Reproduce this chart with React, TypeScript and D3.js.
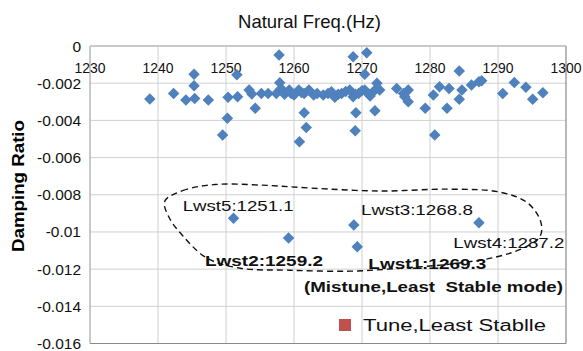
import React from "react";
import * as d3 from "d3";

const W = 583;
const H = 351;

// axis ticks
const xTicks = [1230, 1240, 1250, 1260, 1270, 1280, 1290, 1300];
const yTicks = [0, -0.002, -0.004, -0.006, -0.008, -0.01, -0.012, -0.014, -0.016];
const yTickLabels = ["0", "-0.002", "-0.004", "-0.006", "-0.008", "-0.01", "-0.012", "-0.014", "-0.016"];

// mode data (natural frequency, damping ratio)
const freq = [
  1238.8, 1242.3, 1244.1, 1245.3, 1245.3, 1245.4, 1247.4, 1249.5, 1250.2, 1250.3,
  1251.6, 1251.7, 1253.4, 1253.8, 1254.3, 1255.2, 1256.2, 1257.4, 1257.8, 1257.9,
  1258.1, 1258.6, 1259.3, 1259.6, 1260.0, 1260.7, 1261.1, 1261.5, 1261.5, 1261.8,
  1260.8, 1262.2, 1262.9, 1263.4, 1264.3, 1265.0, 1265.5, 1266.0, 1266.5, 1267.0,
  1267.6, 1268.2, 1268.7, 1268.7, 1269.0, 1269.1, 1269.0, 1269.5, 1270.0, 1270.4,
  1270.4, 1270.7, 1270.9, 1271.2, 1271.9, 1271.9, 1272.2, 1272.6, 1275.1, 1276.1,
  1276.3, 1276.8, 1276.8, 1279.3, 1280.5, 1280.7, 1281.4, 1282.5, 1282.8, 1284.3,
  1284.7, 1284.3, 1286.1, 1287.2, 1287.6, 1290.7, 1292.4, 1294.1, 1295.1, 1296.6,
  1251.1, 1259.2, 1268.8, 1269.3, 1287.2,
];
const damping = [
  -0.00285, -0.00255, -0.0029, -0.00152, -0.00214, -0.00282, -0.0029, -0.00479, -0.00389, -0.00276,
  -0.00154, -0.00273, -0.00237, -0.00258, -0.00335, -0.00255, -0.00255, -0.00255, -0.00048, -0.00197,
  -0.00228, -0.0026, -0.00237, -0.00255, -0.00264, -0.00237, -0.0025, -0.00255, -0.00359, -0.00438,
  -0.00515, -0.00237, -0.00264, -0.00255, -0.00264, -0.00255, -0.00246, -0.00276, -0.0026, -0.00255,
  -0.00245, -0.00237, -0.00273, -0.00058, -0.0026, -0.00359, -0.00456, -0.00255, -0.0024, -0.00237,
  -0.00152, -0.00036, -0.00255, -0.00269, -0.00237, -0.00348, -0.002, -0.00237, -0.00228, -0.00255,
  -0.00273, -0.00237, -0.003, -0.00335, -0.00264, -0.00479, -0.00219, -0.00335, -0.00228, -0.00135,
  -0.00237, -0.00287, -0.0021, -0.00192, -0.00187, -0.00255, -0.00196, -0.00222, -0.00287, -0.00251,
  -0.00927, -0.01032, -0.00963, -0.0108, -0.00951,
];

// dashed outline around the least-stable modes (data units)
const outlineFreq = [
  1241.0, 1243.6, 1248.4, 1255.0, 1262.4, 1272.7, 1282.9, 1290.3, 1294.4, 1296.3,
  1296.2, 1294.0, 1289.6, 1282.9, 1275.6, 1268.2, 1259.4, 1252.1, 1247.2, 1243.7, 1241.6,
];
const outlineDamp = [
  -0.00835, -0.00778, -0.00745, -0.00748, -0.00764, -0.0078, -0.0077, -0.00786, -0.00845, -0.00947,
  -0.01023, -0.01082, -0.01136, -0.01173, -0.01195, -0.01211, -0.01206, -0.01195, -0.01141, -0.01023, -0.0092,
];

// annotation labels
const labelText = ["Lwst5:1251.1", "Lwst3:1268.8", "Lwst4:1287.2", "Lwst2:1259.2", "Lwst1:1269.3", "(Mistune,Least  Stable mode)"];
const labelFreq = [1243.63, 1269.85, 1283.43, 1246.91, 1270.93, 1261.47];
const labelDamp = [-0.008864, -0.009096, -0.010888, -0.01184, -0.012018, -0.013224];
const labelBold = [false, false, false, true, true, true];
const labelWidth = [111, 112, 111, 118, 118, 259];

const titleText = "Natural Freq.(Hz)";
const yTitle = "Damping Ratio";
const legendText = "Tune,Least Stablle";

const FONT = "'Liberation Sans', Arial, sans-serif";
const BLUE = "#4F81BD";
const RED = "#C0504D";

export default function App() {
  const left = 90, right = 566, top = 46, bottom = 343.5;
  const x = d3.scaleLinear().domain([1230, 1300]).range([left, right]);
  const y = d3.scaleLinear().domain([-0.016, 0]).range([bottom, top]);
  const diamond = d3.symbol().type(d3.symbolSquare).size(66)();
  const outline = d3
    .line<number>()
    .x((_, i) => x(outlineFreq[i]))
    .y((_, i) => y(outlineDamp[i]))
    .curve(d3.curveCatmullRomClosed.alpha(0.5))(outlineFreq);

  return (
    <svg width={W} height={H} style={{ position: "absolute", left: 0, top: 0, background: "#fff" }} fontFamily={FONT}>
      <rect x={0} y={0} width={W} height={H} fill="#fff" />
      {/* grid */}
      {xTicks.map((t) => (
        <line key={"gx" + t} x1={x(t)} x2={x(t)} y1={top} y2={bottom} stroke="#D0D0D0" strokeWidth={1} />
      ))}
      {yTicks.map((t) => (
        <line key={"gy" + t} x1={left} x2={right} y1={y(t)} y2={y(t)} stroke="#D0D0D0" strokeWidth={1} />
      ))}
      {/* frame */}
      <line x1={left} x2={left} y1={top} y2={bottom} stroke="#BFBFBF" strokeWidth={1.5} />
      <line x1={left} x2={right} y1={top} y2={top} stroke="#BFBFBF" strokeWidth={1.5} />
      <line x1={right} x2={right} y1={top} y2={bottom} stroke="#8A8A8A" strokeWidth={1} />
      <line x1={left} x2={right} y1={bottom} y2={bottom} stroke="#8A8A8A" strokeWidth={1} />

      {/* tick labels */}
      {xTicks.map((t) => (
        <text key={"tx" + t} x={x(t)} y={y(0) + 27} textAnchor="middle" fontSize={15} fill="#111" textLength={31} lengthAdjust="spacingAndGlyphs">
          {t}
        </text>
      ))}
      {yTicks.map((t, i) => (
        <text key={"ty" + t} x={81} y={y(t) + 5.5} textAnchor="end" fontSize={15.5} fill="#111">
          {yTickLabels[i]}
        </text>
      ))}

      {/* titles */}
      <text x={309.5} y={28} textAnchor="middle" fontSize={18.5} fill="#111">
        {titleText}
      </text>
      <text
        transform={`translate(24,186) rotate(-90)`}
        textAnchor="middle"
        fontSize={17}
        fontWeight="bold"
        fill="#000"
        textLength={132}
        lengthAdjust="spacingAndGlyphs"
      >
        {yTitle}
      </text>

      {/* points */}
      {freq.map((f, i) => (
        <path
          key={"p" + i}
          d={diamond || ""}
          transform={`translate(${x(f)},${y(damping[i])}) rotate(45)`}
          fill={BLUE}
        />
      ))}

      {/* outline */}
      <path d={outline || ""} fill="none" stroke="#111" strokeWidth={1.4} strokeDasharray="6,4" />

      {/* labels */}
      {labelText.map((t, i) => (
        <text
          key={"l" + i}
          x={x(labelFreq[i])}
          y={y(labelDamp[i])}
          fontSize={15.5}
          fontWeight={labelBold[i] ? "bold" : "normal"}
          fill="#111"
          textLength={labelWidth[i]}
          lengthAdjust="spacingAndGlyphs"
          style={{ whiteSpace: "pre" }}
        >
          {t}
        </text>
      ))}

      {/* legend */}
      <rect x={339} y={319} width={12} height={12} fill={RED} />
      <text x={363} y={331} fontSize={16} fill="#111" textLength={183} lengthAdjust="spacingAndGlyphs">
        {legendText}
      </text>
    </svg>
  );
}
